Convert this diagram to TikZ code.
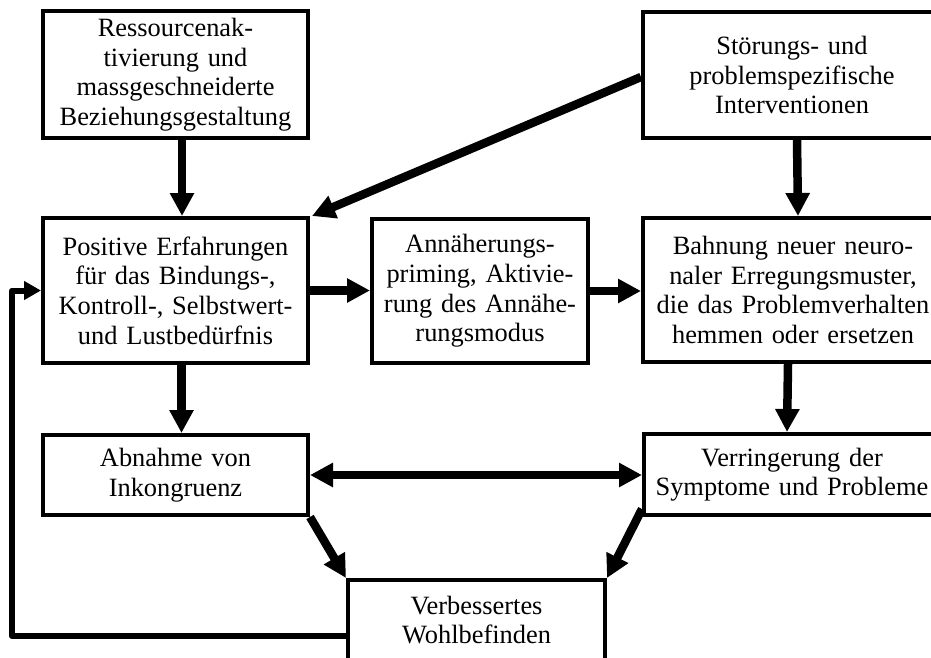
\documentclass[tikz,border=0pt]{standalone}
\usepackage{fontspec}
\setmainfont{Liberation Serif}
\usetikzlibrary{arrows.meta}

\tikzset{
  box/.style={draw, line width=4pt, inner sep=0pt, align=center,
    font=\fontsize{26.4}{29.6}\selectfont},
  arr/.style={line width=8.5pt, -{Triangle[length=23pt,width=23pt]}},
  dblarr/.style={line width=8.5pt, {Triangle[length=23pt,width=23pt]}-{Triangle[length=23pt,width=23pt]}},
  loopline/.style={line width=6pt, line cap=round, line join=round,
    -{Triangle[length=17pt,width=18pt]}}
}

\begin{document}
\begin{tikzpicture}[x=1pt, y=-1pt]
\useasboundingbox (0,0) rectangle (931,657);
\clip (0,0) rectangle (931,657);

% boxes
\node[box, minimum width=265pt, minimum height=127pt, text width=255pt] (res) at (175.5,74.5)
  {Ressourcenak-\\tivierung und\\massgeschneiderte\\Beziehungsgestaltung};
\node[box, minimum width=298pt, minimum height=126pt, text width=288pt] (sto) at (792,75)
  {Störungs- und\\problemspezifische\\Interventionen};
\node[box, minimum width=265pt, minimum height=145pt, text width=255pt] (pos) at (175.5,290.5)
  {Positive Erfahrungen\\für das Bindungs-,\\Kontroll-, Selbstwert-\\und Lustbedürfnis};
\node[box, minimum width=216pt, minimum height=144pt, text width=208pt] (ann) at (480,291)
  {Annäherungs-\\priming, Aktivie-\\rung des Annähe-\\rungsmodus};
\node[box, minimum width=300pt, minimum height=144pt, text width=292pt] (bah) at (793,290)
  {Bahnung neuer neuro-\\naler Erregungsmuster,\\die das Problemverhalten\\hemmen oder ersetzen};
\node[box, minimum width=265pt, minimum height=80pt, text width=255pt] (abn) at (175.5,475)
  {Abnahme von\\Inkongruenz};
\node[box, minimum width=296pt, minimum height=81pt, text width=288pt] (ver) at (792,474.5)
  {Verringerung der\\Symptome und Probleme};
\node[box, minimum width=257pt, minimum height=80pt, text width=249pt] (wohl) at (476.5,620)
  {Verbessertes\\Wohlbefinden};

% connectors
\draw[arr] ([xshift=6.5pt]res.south) -- ([xshift=6.5pt]pos.north);
\draw[arr] ([xshift=5pt]sto.south) -- ([xshift=5pt]bah.north);
\draw[arr] ([yshift=-2pt]sto.west) -- ([xshift=2pt]pos.north east);
\draw[arr] (pos.east) -- (pos.east -| ann.west);
\draw[arr] (ann.east) -- (ann.east -| bah.west);
\draw[arr] ([xshift=6pt]pos.south) -- ([xshift=6pt]abn.north);
\draw[arr] ([xshift=-5pt]bah.south) -- ([xshift=-5pt]ver.north);
\draw[dblarr] (abn.east) -- (abn.east -| ver.west);
\draw[arr] (abn.south east) -- (wohl.north west);
\draw[arr] ([yshift=8pt]ver.south west) -- (wohl.north east);

% feedback loop back to the positive experiences
\coordinate (fbtop) at (12,290.5);
\draw[loopline] ([yshift=-16pt]wohl.west) -| (fbtop) -- (pos.west);
\end{tikzpicture}
\end{document}
